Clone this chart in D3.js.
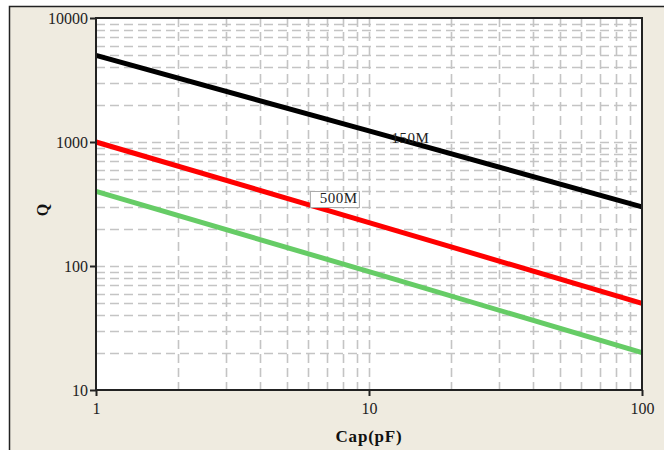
<!DOCTYPE html>
<html><head><meta charset="utf-8">
<script src="https://cdn.jsdelivr.net/npm/d3@7"></script>
<style>body{margin:0;background:#fff;} text{font-family:"Liberation Serif","DejaVu Serif",serif;}</style>
</head><body>
<svg id="c" width="664" height="450"></svg>
<script>
const capValues = [1, 10, 100];
const q150M = [5000, 1230, 300];
const q500M = [1000, 224, 50];
const q3 = [400, 90, 20];
const xTicks = [1, 10, 100];
const yTicks = [10, 100, 1000, 10000];
const seriesNames = ["150M", "500M", ""];
const seriesColors = ["#000000", "#ff0000", "#66cc66"];

const svg = d3.select("#c");
const W = 664, H = 450;
const m = {l: 96, t: 18, r: 642, b: 390};

svg.append("rect").attr("x", 9.5).attr("y", 6.5).attr("width", W).attr("height", H)
  .attr("fill", "#efebe0").attr("stroke", "#222").attr("stroke-width", 1.5);
svg.append("rect").attr("x", m.l).attr("y", m.t).attr("width", m.r - m.l).attr("height", m.b - m.t).attr("fill", "#fff");

const x = d3.scaleLog().domain([1, 100]).range([m.l, m.r]);
const y = d3.scaleLog().domain([10, 10000]).range([m.b, m.t]);

const g = svg.append("g");
const minorX = [];
[1, 10].forEach(d => { for (let k = 2; k <= 9; k++) minorX.push(d * k); });
const minorY = [];
[10, 100, 1000].forEach(d => { for (let k = 2; k <= 9; k++) minorY.push(d * k); });
const gridX = minorX.concat([10]);
const gridY = minorY.concat([100, 1000]);
g.selectAll(".gx").data(gridX).enter().append("line")
  .attr("x1", d => Math.round(x(d)) + 0.5).attr("x2", d => Math.round(x(d)) + 0.5)
  .attr("y1", m.t).attr("y2", m.b)
  .attr("stroke", "#c4c4c4").attr("stroke-width", 1.6).attr("stroke-dasharray", "9,5");
g.selectAll(".gy").data(gridY).enter().append("line")
  .attr("y1", d => Math.round(y(d)) + 0.5).attr("y2", d => Math.round(y(d)) + 0.5)
  .attr("x1", m.l).attr("x2", m.r)
  .attr("stroke", "#c4c4c4").attr("stroke-width", 1.6).attr("stroke-dasharray", "9,5");

const series = [q150M, q500M, q3];
const line = d3.line().x(d => x(d[0])).y(d => y(d[1]));
series.forEach((s, i) => {
  svg.append("path").datum(capValues.map((c, j) => [c, s[j]]))
    .attr("d", line).attr("fill", "none").attr("stroke", seriesColors[i]).attr("stroke-width", 5);
});

// labels
svg.append("text").attr("x", x(12.1)).attr("y", 140).attr("font-size", 15).attr("fill", "#222")
  .attr("dominant-baseline", "middle").attr("letter-spacing", 0.5).text(seriesNames[0]);
svg.append("rect").attr("x", x(6.1)).attr("y", 191.5).attr("width", 49).attr("height", 16)
  .attr("fill", "#fff").attr("stroke", "#aaa").attr("stroke-width", 1);
svg.append("text").attr("x", x(6.6)).attr("y", 200).attr("font-size", 15).attr("fill", "#222")
  .attr("dominant-baseline", "middle").attr("letter-spacing", 0.5).text(seriesNames[1]);

// frame
svg.append("rect").attr("x", m.l).attr("y", m.t).attr("width", m.r - m.l).attr("height", m.b - m.t)
  .attr("fill", "none").attr("stroke", "#222").attr("stroke-width", 2);

const fmt = d => String(d);
const xa = svg.append("g").attr("transform", `translate(0,${m.b})`)
  .call(d3.axisBottom(x).tickValues(xTicks).tickFormat(fmt).tickSize(6).tickPadding(7));
const ya = svg.append("g").attr("transform", `translate(${m.l},0)`)
  .call(d3.axisLeft(y).tickValues(yTicks).tickFormat(fmt).tickSize(6).tickPadding(2));
[xa, ya].forEach(a => {
  a.select(".domain").remove();
  a.selectAll("line").attr("stroke", "#222").attr("stroke-width", 2);
  a.selectAll("text").attr("font-size", 16).attr("fill", "#222")
    .attr("font-family", "'Liberation Serif','DejaVu Serif',serif");
});

svg.append("text").attr("x", 369).attr("y", 442).attr("text-anchor", "middle")
  .attr("font-size", 17).attr("font-weight", "bold").attr("fill", "#111").attr("letter-spacing", 0.8)
  .attr("font-family", "'DejaVu Serif',serif").text("Cap(pF)");
svg.append("text").attr("transform", "translate(48,210) rotate(-90)").attr("text-anchor", "middle")
  .attr("font-size", 16).attr("font-weight", "bold").attr("fill", "#111")
  .attr("font-family", "'DejaVu Serif',serif").text("Q");
</script>
</body></html>
